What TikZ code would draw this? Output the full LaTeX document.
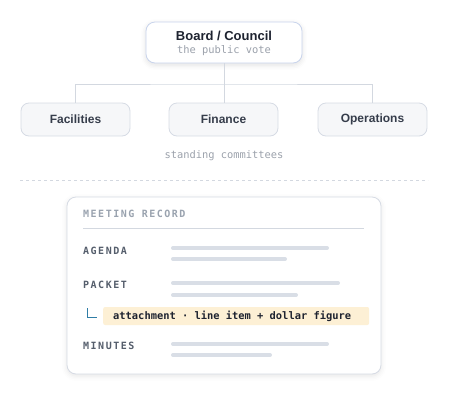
\documentclass[tikz,border=0pt]{standalone}
\usepackage{fontspec}
\setmainfont{Liberation Sans}
\newfontfamily\monofont{DejaVu Sans Mono}
\newfontfamily\capsfont[LetterSpace=15]{DejaVu Sans Mono}
\usetikzlibrary{positioning,shadows.blur}

\definecolor{ink}{HTML}{1E2330}
\definecolor{inkmid}{HTML}{363D4B}
\definecolor{subgray}{HTML}{9BA1AB}
\definecolor{wiregray}{HTML}{D3D8E0}
\definecolor{boardedge}{HTML}{C9D4EC}
\definecolor{boxedge}{HTML}{D6DBE4}
\definecolor{boxfill}{HTML}{F6F7F9}
\definecolor{labelgray}{HTML}{555E6C}
\definecolor{headgray}{HTML}{9AA3AF}
\definecolor{bargray}{HTML}{D9DEE6}
\definecolor{hlfill}{HTML}{FDF0D5}
\definecolor{cornerteal}{HTML}{2F7DA6}

\begin{document}
\begin{tikzpicture}[
    x=1pt, y=-1pt,
    board/.style={draw=boardedge, line width=0.8pt, rounded corners=9pt, fill=white,
        minimum width=156pt, minimum height=41pt, inner sep=0pt,
        blur shadow={shadow xshift=0pt, shadow yshift=-2pt, shadow blur radius=5pt, shadow opacity=12}},
    boardtitle/.style={font=\fontsize{13}{15}\selectfont\bfseries, text=ink, inner sep=0pt},
    boardsub/.style={font=\fontsize{10.4}{12}\selectfont\monofont, text=subgray, inner sep=0pt},
    committee/.style={draw=boxedge, line width=0.8pt, rounded corners=8pt, fill=boxfill,
        minimum width=109pt, minimum height=33pt, inner sep=0pt,
        font=\fontsize{12}{14}\selectfont\bfseries, text=inkmid},
    wire/.style={draw=wiregray, line width=0.8pt},
    note/.style={font=\fontsize{10.4}{12}\selectfont\monofont, text=subgray, inner sep=0pt},
    record/.style={draw=boxedge, line width=0.8pt, rounded corners=9pt, fill=white,
        minimum width=314pt, minimum height=177pt, inner sep=0pt,
        blur shadow={shadow xshift=0pt, shadow yshift=-2pt, shadow blur radius=5pt, shadow opacity=10}},
    rowlabel/.style={font=\fontsize{10}{12}\selectfont\capsfont\bfseries, text=labelgray, anchor=west, inner sep=0pt},
    bar/.style={bargray, line width=4pt, line cap=round},
    attach/.style={fill=hlfill, rounded corners=2pt, anchor=west, minimum width=266pt, minimum height=18pt,
        inner sep=0pt},
    attachtext/.style={font=\fontsize{10.4}{12}\selectfont\monofont\bfseries, text=ink, anchor=west, inner sep=0pt}
]
\useasboundingbox (0,0) rectangle (459,400);

% === Governing body ===
\node[board] (board) at (224,42.5) {};
\node[boardtitle] (boardname) at (224,36) {Board / Council};
\node[boardsub] (boardvote) at (224,51) {the public vote};

% === Committees ===
\node[committee] (facilities) at (75.5,119.5) {Facilities};
\node[committee] (finance) at (223.5,119.5) {Finance};
\node[committee] (operations) at (372.5,119.5) {Operations};

% Tree connectors
\coordinate (bus) at (224,84);
\draw[wire] (board.south) -- (bus);
\draw[wire] (facilities.north) |- (bus) -| (operations.north);
\draw[wire] (bus) -- (bus |- finance.north);

\node[note] (standing) at (224,156) {standing committees};

% Divider
\draw[wiregray, line width=0.8pt, dash pattern=on 3pt off 3pt] (20,180) -- (428,180);

% === Meeting record ===
\node[record] (recordbox) at (224,285.5) {};
\node[rowlabel, text=headgray] (recordhead) at (83,214) {MEETING RECORD};
\draw[wiregray, line width=0.8pt] (83,228) -- (364,228);

% Agenda
\node[rowlabel] (agenda) at (83,251) {AGENDA};
\draw[bar] (173,248) -- (327,248);
\draw[bar] (173,259) -- (285,259);

% Packet
\node[rowlabel] (packet) at (83,285) {PACKET};
\draw[bar] (173,283) -- (338,283);
\draw[bar] (173,295) -- (296,295);

% Attachment hanging off the packet
\draw[cornerteal, line width=1.6pt] (87.5,308) -- (87.5,317.5) -- (96.5,317.5);
\node[attach] (attachment) at (103,316) {};
\node[attachtext] (attachline) at (113,316) {attachment\ ·\ line\ item\ +\ dollar\ figure};

% Minutes
\node[rowlabel] (minutes) at (83,346) {MINUTES};
\draw[bar] (173,344) -- (327,344);
\draw[bar] (173,355) -- (270,355);

\end{tikzpicture}
\end{document}
